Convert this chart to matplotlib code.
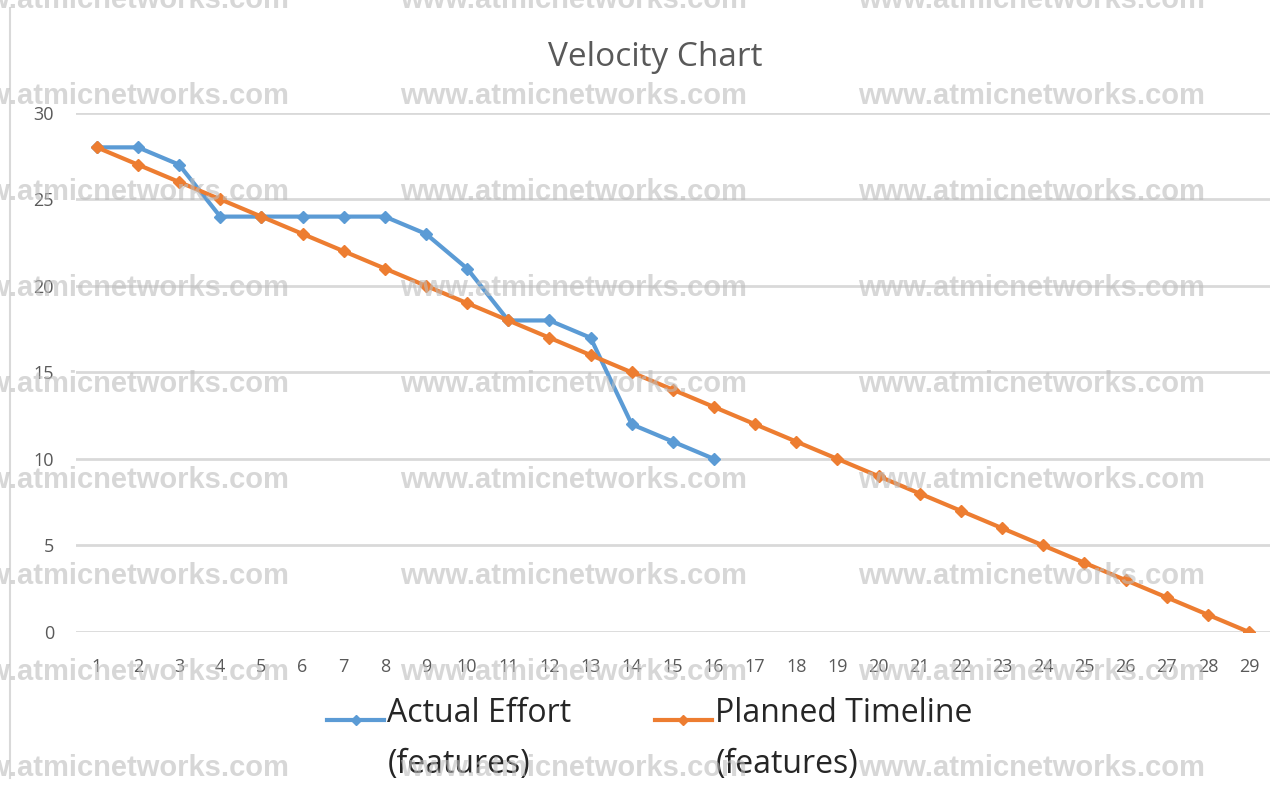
import matplotlib.pyplot as plt
from matplotlib.lines import Line2D

sprints = list(range(1, 30))
actual_effort = [28, 28, 27, 24, 24, 24, 24, 24, 23, 21, 18, 18, 17, 12, 11, 10]
planned_timeline = [28, 27, 26, 25, 24, 23, 22, 21, 20, 19, 18, 17, 16, 15, 14,
                    13, 12, 11, 10, 9, 8, 7, 6, 5, 4, 3, 2, 1, 0]
y_ticks = [0, 5, 10, 15, 20, 25, 30]
watermark = "www.atmicnetworks.com"

plt.rcParams['font.family'] = ['Open Sans', 'DejaVu Sans']

fig = plt.figure(figsize=(12.79, 7.94), dpi=100)
ax = fig.add_axes([0.0596, 0.204, 0.933, 0.654])

blue = '#5B9BD5'
orange = '#ED7D31'

ax.plot(sprints[:len(actual_effort)], actual_effort, color=blue, lw=3,
        marker='D', ms=6, zorder=3)
ax.plot(sprints, planned_timeline, color=orange, lw=3,
        marker='D', ms=6, zorder=3)

ax.set_xlim(0.5, 29.5)
ax.set_ylim(0, 30)
ax.set_yticks(y_ticks)
ax.set_xticks(sprints)
ax.grid(axis='y', color='#d9d9d9', lw=2)
ax.set_axisbelow(True)
for s in ax.spines.values():
    s.set_visible(False)
ax.tick_params(length=0, labelsize=13, labelcolor='#595959')
ax.tick_params(axis='y', pad=16)
ax.tick_params(axis='x', pad=19)

fig.text(0.512, 0.927, "Velocity Chart", ha='center', va='center',
         fontsize=24, color='#595959')

# legend: line on the first text row
handles = [Line2D([], [], color=blue, lw=3, marker='D', ms=5),
           Line2D([], [], color=orange, lw=3, marker='D', ms=5)]
leg = fig.legend(handles, ["Actual Effort\n(features)", "Planned Timeline\n(features)"],
                 loc='center', bbox_to_anchor=(0.508, 0.063), ncol=2, frameon=False,
                 fontsize=23, handlelength=1.8, handleheight=5.0, handletextpad=0.1,
                 columnspacing=2.6)
for t in leg.get_texts():
    t.set_linespacing(1.7)
    t.set_color('#262626')

# frame line on the left
fig.add_artist(Line2D([0.008, 0.008], [0.02, 0.99], color='#d9d9d9', lw=1.5))

# watermark
for row in range(9):
    y = 1.0 - row * 96 / 794
    for x in [-0.045, 0.313, 0.671]:
        fig.text(x, y, watermark, ha='left', va='center', fontsize=21,
                 family='Liberation Sans', weight='bold', color='#bdbdbd',
                 alpha=0.6, zorder=10)

fig.savefig('out.png', dpi=100)
